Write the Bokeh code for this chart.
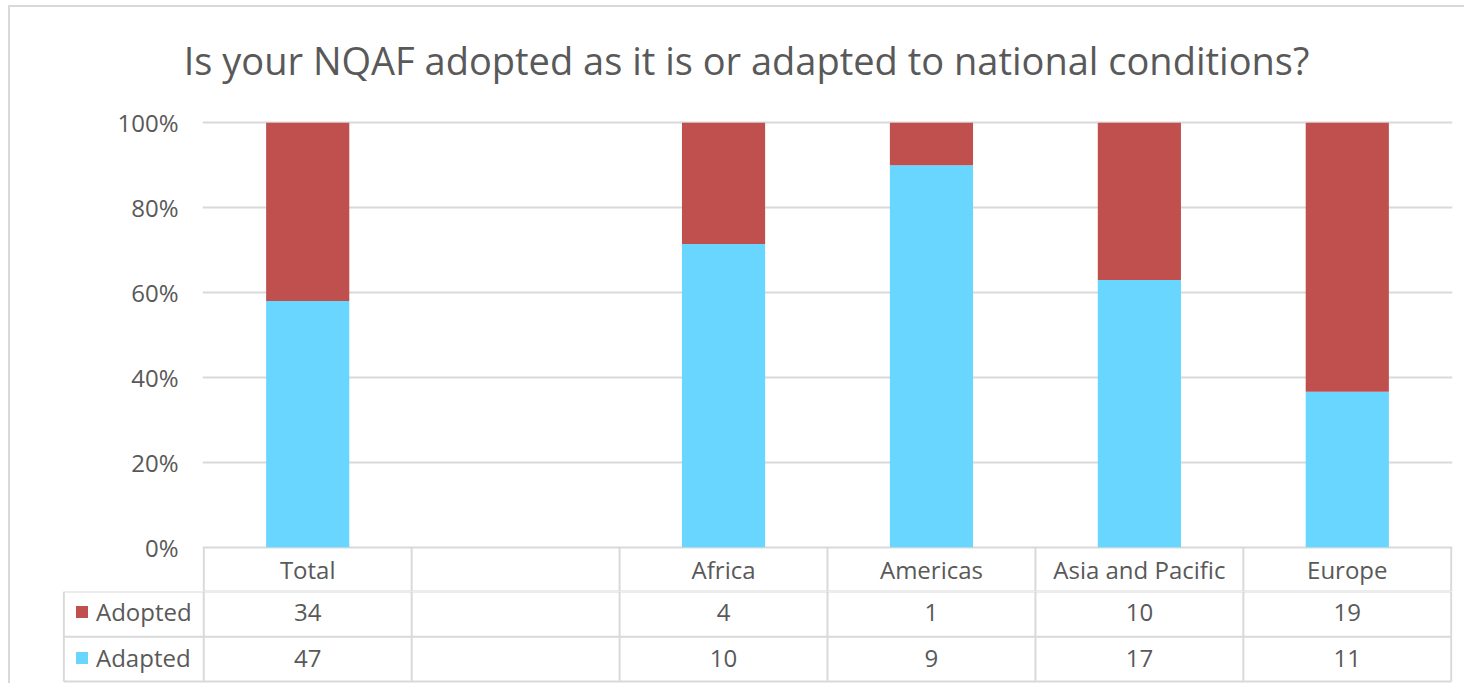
from bokeh.plotting import figure
from bokeh.layouts import column
from bokeh.models import (FixedTicker, PrintfTickFormatter, Range1d,
                          ColumnDataSource, Legend, LegendItem)
from bokeh.core.properties import value
from bokeh.embed import file_html
from bokeh.resources import INLINE

# ---- data ----
categories = ["Total", "", "Africa", "Americas", "Asia and Pacific", "Europe"]
series_names = ["Adopted", "Adapted"]
adopted = [34, None, 4, 1, 10, 19]
adapted = [47, None, 10, 9, 17, 11]
y_ticks = [0, 20, 40, 60, 80, 100]
title_text = "Is your NQAF adopted as it is or adapted to national conditions?"

RED = "#C0504D"
CYAN = "#69D6FF"
GRID = "#D9D9D9"
TXT = "#595959"
FONT = "Open Sans"
FS = "24px"

# ---- percentages for the 100% stacked bars ----
bx, b_adapted, b_top = [], [], []
for i, (a, b) in enumerate(zip(adopted, adapted)):
    if a is None:
        continue
    bx.append(i + 0.5)
    b_adapted.append(b / (a + b) * 100.0)
    b_top.append(100.0)
src = ColumnDataSource(dict(x=bx, adapted=b_adapted, top=b_top))

row_y = [0, -10.4, -21.1, -31.6]      # table row borders (in y units below 0 %)
PX_PER_X = 207.9
X0, X1 = -0.006, 6.006
LEFT = 192
W = 1454

# ================= title strip =================
TH = 80
t = figure(width=W, height=TH, output_backend="svg", toolbar_location=None,
           x_range=Range1d(0, W), y_range=Range1d(TH, 0),
           x_axis_location=None, y_axis_location=None,
           min_border_left=0, min_border_right=0, min_border_top=0, min_border_bottom=0)
t.frame_align = False
t.outline_line_color = None
t.border_fill_color = "white"
t.grid.visible = False
t.text(x=[736], y=[52.2], text=[title_text], text_align="center", text_baseline="alphabetic",
       text_font=value(FONT), text_font_size="38px", text_color=TXT)

# ================= chart (with table header row) =================
p = figure(width=W, height=504, output_backend="svg", toolbar_location=None,
           x_range=Range1d(X0, X1), y_range=Range1d(row_y[1], 100.54),
           x_axis_location=None,
           min_border_left=LEFT, min_border_right=12, min_border_top=33, min_border_bottom=0)
p.frame_align = False
p.outline_line_color = None
p.border_fill_color = "white"

p.yaxis.ticker = FixedTicker(ticks=y_ticks)
p.yaxis.formatter = PrintfTickFormatter(format="%d%%")
p.yaxis.axis_line_color = None
p.yaxis.major_tick_line_color = None
p.yaxis.minor_tick_line_color = None
p.yaxis.major_label_text_font = FONT
p.yaxis.major_label_text_font_size = FS
p.yaxis.major_label_text_color = TXT
p.yaxis.major_label_standoff = 18
p.xgrid.visible = False
p.ygrid.ticker = FixedTicker(ticks=y_ticks)
p.ygrid.grid_line_color = GRID
p.ygrid.grid_line_width = 2

r_adapted = p.vbar(x="x", width=0.4, bottom=0, top="adapted", source=src,
                   fill_color=CYAN, line_color=None)
r_adopted = p.vbar(x="x", width=0.4, bottom="adapted", top="top", source=src,
                   fill_color=RED, line_color=None)

cx = [i + 0.5 for i in range(len(categories))]
p.segment(x0=[0], x1=[6], y0=[row_y[1]], y1=[row_y[1]], line_color=GRID, line_width=2)
p.segment(x0=list(range(7)), x1=list(range(7)), y0=[0] * 7, y1=[row_y[1]] * 7,
          line_color=GRID, line_width=2)
p.text(x=cx, y=[-5.2] * 6, text=categories, text_align="center", text_baseline="alphabetic",
       text_font=value(FONT), text_font_size=FS, text_color=TXT)

# ================= table rows with legend keys =================
LX = -0.673
q_left = 52
q_x0 = X0 - (LEFT - q_left) / PX_PER_X
q = figure(width=W, height=92, output_backend="svg", toolbar_location=None,
           x_range=Range1d(q_x0, X1), y_range=Range1d(-32.1, row_y[1]),
           x_axis_location=None, y_axis_location=None,
           min_border_left=q_left, min_border_right=12, min_border_top=0, min_border_bottom=0)
q.frame_align = False
q.outline_line_color = None
q.border_fill_color = "white"
q.grid.visible = False

q.segment(x0=[LX] * 3, x1=[6] * 3, y0=row_y[1:], y1=row_y[1:], line_color=GRID, line_width=2)
q.segment(x0=[LX] + list(range(7)), x1=[LX] + list(range(7)),
          y0=[row_y[1]] * 8, y1=[row_y[-1]] * 8, line_color=GRID, line_width=2)
q.text(x=cx, y=[-15.3] * 6, text=["" if v is None else str(v) for v in adopted],
       text_align="center", text_baseline="alphabetic",
       text_font=value(FONT), text_font_size=FS, text_color=TXT)
q.text(x=cx, y=[-26.3] * 6, text=["" if v is None else str(v) for v in adapted],
       text_align="center", text_baseline="alphabetic",
       text_font=value(FONT), text_font_size=FS, text_color=TXT)

# legend keys (proxies of the two bar series; their single bar lies outside the view)
k_adopted = q.vbar(x=[100], top=[1], width=0.4, fill_color=RED, line_color=None)
k_adapted = q.vbar(x=[100], top=[1], width=0.4, fill_color=CYAN, line_color=None)
legend = Legend(items=[LegendItem(label=series_names[0], renderers=[k_adopted]),
                       LegendItem(label=series_names[1], renderers=[k_adapted])],
                location=(12, 9), orientation="vertical",
                label_text_font=FONT, label_text_font_size=FS, label_text_color=TXT,
                glyph_width=15, glyph_height=15, label_standoff=7, spacing=13,
                padding=0, margin=0, border_line_color=None, background_fill_alpha=0)
q.add_layout(legend, "center")

layout = column(t, p, q, spacing=0, margin=(5, 0, 0, 8),
                styles={"border-left": "2px solid #D9D9D9", "border-top": "2px solid #D9D9D9"})
open("out.html", "w").write(file_html(layout, INLINE))
